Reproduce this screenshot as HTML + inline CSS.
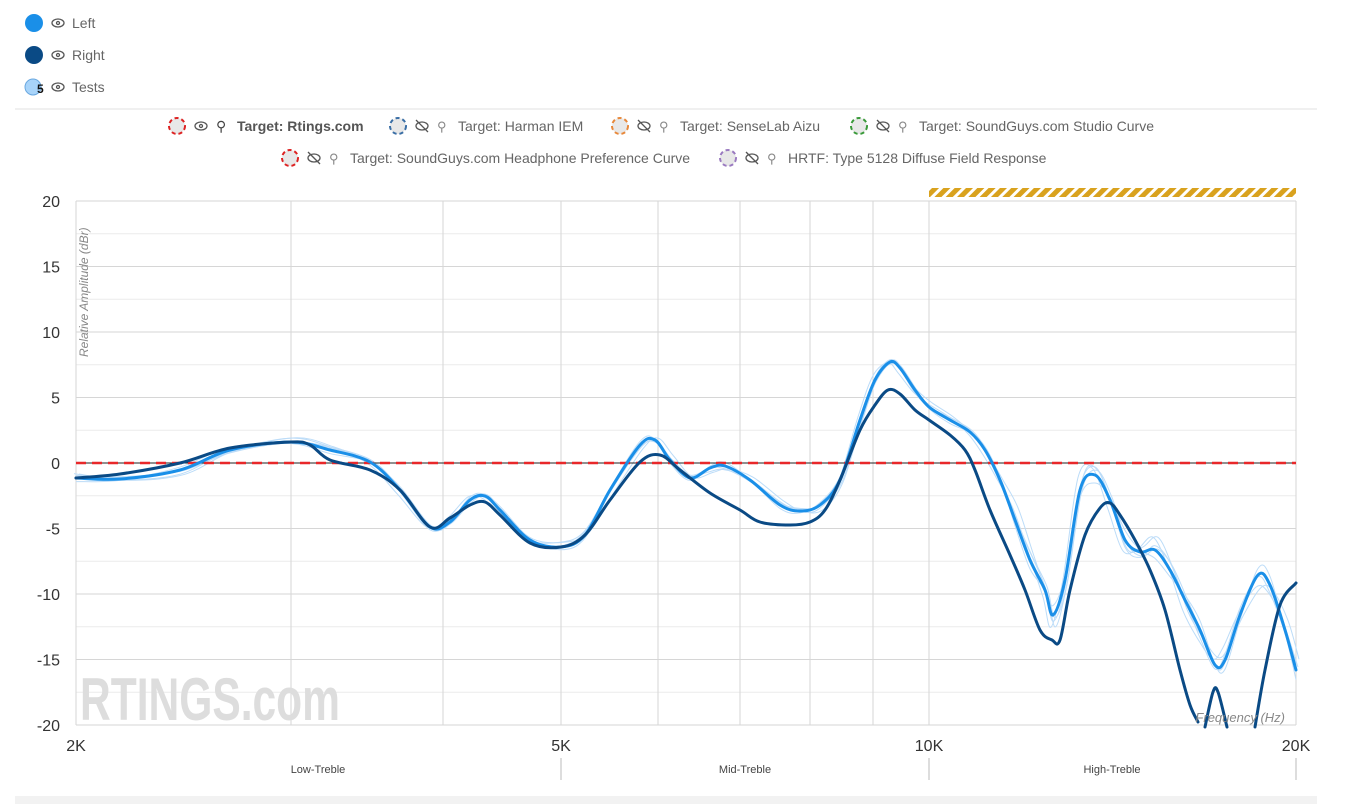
<!DOCTYPE html><html><head><meta charset="utf-8"><style>
body{margin:0;width:1345px;height:804px;background:#fff;font-family:"Liberation Sans",sans-serif;overflow:hidden;position:relative}
</style></head><body>
<svg width="1345" height="804" style="position:absolute;left:0;top:0" font-family="Liberation Sans, sans-serif">
<g font-size="14" fill="#666">
<circle cx="34" cy="23" r="9" fill="#1a8fe8"/><text x="72" y="28">Left</text>
<circle cx="34" cy="55" r="9" fill="#0a4a85"/><text x="72" y="60">Right</text>
<circle cx="33" cy="87" r="8" fill="#a8d4fa" stroke="#6aa8e0"/><text x="37" y="93" font-size="12" font-weight="bold" fill="#111">5</text><text x="72" y="92">Tests</text>
<g fill="none" stroke="#555" stroke-width="1.3">
<ellipse cx="58" cy="23" rx="6" ry="4"/><circle cx="58" cy="23" r="1.5"/>
<ellipse cx="58" cy="55" rx="6" ry="4"/><circle cx="58" cy="55" r="1.5"/>
<ellipse cx="58" cy="87" rx="6" ry="4"/><circle cx="58" cy="87" r="1.5"/>
</g>
<line x1="15" y1="109" x2="1317" y2="109" stroke="#e2e2e2"/>
<g stroke-dasharray="4,3" stroke-width="2" fill="#e8e8e8">
<circle cx="177" cy="126" r="8" stroke="#d22"/><circle cx="398" cy="126" r="8" stroke="#3a6ea5"/><circle cx="620" cy="126" r="8" stroke="#e8883a"/><circle cx="859" cy="126" r="8" stroke="#3a9a3a"/>
<circle cx="290" cy="158" r="8" stroke="#d22"/><circle cx="728" cy="158" r="8" stroke="#9a7ac0"/>
</g>
<g fill="none" stroke="#555" stroke-width="1.3">
<ellipse cx="201" cy="126" rx="6" ry="4"/><circle cx="201" cy="126" r="1.5"/>
<ellipse cx="422" cy="126" rx="6" ry="4"/><line x1="416" y1="120" x2="428" y2="132"/>
<ellipse cx="644" cy="126" rx="6" ry="4"/><line x1="638" y1="120" x2="650" y2="132"/>
<ellipse cx="883" cy="126" rx="6" ry="4"/><line x1="877" y1="120" x2="889" y2="132"/>
<ellipse cx="314" cy="158" rx="6" ry="4"/><line x1="308" y1="152" x2="320" y2="164"/>
<ellipse cx="752" cy="158" rx="6" ry="4"/><line x1="746" y1="152" x2="758" y2="164"/>
</g>
<g font-size="13" fill="#444">
<text x="216" y="131" font-size="14">⚲</text>
<text x="237" y="131" font-weight="bold" fill="#555" font-size="14">Target: Rtings.com</text>
<text x="437" y="131" fill="#888">⚲</text><text x="458" y="131" font-size="14" fill="#666">Target: Harman IEM</text>
<text x="659" y="131" fill="#888">⚲</text><text x="680" y="131" font-size="14" fill="#666">Target: SenseLab Aizu</text>
<text x="898" y="131" fill="#888">⚲</text><text x="919" y="131" font-size="14" fill="#666">Target: SoundGuys.com Studio Curve</text>
<text x="329" y="163" fill="#888">⚲</text><text x="350" y="163" font-size="14" fill="#666">Target: SoundGuys.com Headphone Preference Curve</text>
<text x="767" y="163" fill="#888">⚲</text><text x="788" y="163" font-size="14" fill="#666">HRTF: Type 5128 Diffuse Field Response</text>
</g>
</g>
<defs><pattern id="hz" width="8" height="8" patternUnits="userSpaceOnUse" patternTransform="rotate(45)"><rect width="8" height="8" fill="#fff"/><rect width="5" height="8" fill="#d9a21e"/></pattern></defs>
<rect x="929" y="188" width="367" height="9" fill="url(#hz)"/>
<g id="grid"></g>
<text x="80" y="720" font-size="60" font-weight="bold" fill="#ddd" textLength="260" lengthAdjust="spacingAndGlyphs">RTINGS.com</text>
<g id="tests" fill="none" stroke="#bcdcf8" stroke-width="1"></g>
<line x1="76" y1="463" x2="1296" y2="463" stroke="#222" stroke-width="1"/>
<line x1="76" y1="463" x2="1296" y2="463" stroke="#e8282a" stroke-width="2.5" stroke-dasharray="10,6"/>
<g id="main" fill="none" stroke-width="3" stroke-linecap="round" stroke-linejoin="round"></g>
<text transform="translate(88,357) rotate(-90)" font-size="12" font-style="italic" fill="#888">Relative Amplitude (dBr)</text>
<text x="1285" y="722" font-size="13" font-style="italic" fill="#888" text-anchor="end">Frequency (Hz)</text>
<g font-size="16" fill="#333" text-anchor="middle">
<text x="76" y="751">2K</text><text x="561" y="751">5K</text><text x="929" y="751">10K</text><text x="1296" y="751">20K</text>
</g>
<g font-size="11" fill="#444" text-anchor="middle"><text x="318" y="773">Low-Treble</text><text x="745" y="773">Mid-Treble</text><text x="1112" y="773">High-Treble</text></g>
<g stroke="#bbb"><line x1="561" y1="758" x2="561" y2="780"/><line x1="929" y1="758" x2="929" y2="780"/><line x1="1296" y1="758" x2="1296" y2="780"/></g>
<rect x="15" y="796" width="1302" height="8" fill="#f2f2f2"/>
</svg>
<script>
var ns="http://www.w3.org/2000/svg";
function el(p,t,a){var e=document.createElementNS(ns,t);for(var k in a)e.setAttribute(k,a[k]);p.appendChild(e);return e}
var g=document.getElementById('grid');
for(var i=0;i<=16;i++){var y=201+i*524/16;el(g,'line',{x1:76,x2:1296,y1:y,y2:y,stroke:i%2?'#ececec':'#d6d6d6'});}
for(var i=0;i<=16;i+=2){var v=20-i*2.5;var tx=el(g,'text',{x:60,y:201+i*524/16+6,'font-size':16,fill:'#333','text-anchor':'end'});tx.textContent=v;}
[76,291,443,561,658,740,810,873,929,1296].forEach(function(x){el(g,'line',{x1:x,x2:x,y1:201,y2:725,stroke:'#d6d6d6'})});
function sm(p){var d='M'+p[0][0]+','+p[0][1];for(var i=0;i<p.length-1;i++){var p0=p[i-1]||p[i],p1=p[i],p2=p[i+1],p3=p[i+2]||p2;
d+='C'+(p1[0]+(p2[0]-p0[0])/6)+','+(p1[1]+(p2[1]-p0[1])/6)+' '+(p2[0]-(p3[0]-p1[0])/6)+','+(p2[1]-(p3[1]-p1[1])/6)+' '+p2[0]+','+p2[1];}return d}
var L=[[76,478],[120,479],[180,470],[230,450],[291,442],[330,450],[370,462],[400,490],[430,527],[450,522],[470,500],[485,496],[500,510],[530,540],[561,547],[585,535],[610,490],[640,445],[655,440],[670,460],[690,478],[710,468],[725,466],[750,480],[780,505],[800,511],[820,505],[840,480],[860,420],[875,380],[890,362],[900,368],[915,390],[929,407],[950,420],[970,432],[985,450],[1000,480],[1015,520],[1030,560],[1045,590],[1053,615],[1065,580],[1080,490],[1095,475],[1110,500],[1125,540],[1140,552],[1155,550],[1170,570],[1185,600],[1200,630],[1215,665],[1225,660],[1240,615],[1258,575],[1270,585],[1285,630],[1296,670]];
var R=[[76,478],[120,474],[180,463],[230,448],[291,442],[310,445],[330,460],[370,470],[400,490],[430,527],[450,518],[470,505],[485,502],[500,515],[530,543],[561,547],[585,535],[610,500],[640,462],[660,455],[680,470],[710,493],[740,510],[760,522],[790,525],[810,522],[825,510],[840,480],[860,430],[875,405],[888,390],[900,394],[915,410],[929,420],[950,435],[965,450],[975,470],[990,510],[1010,555],[1025,590],[1040,630],[1052,640],[1060,640],[1070,590],[1085,535],[1100,508],[1110,503],[1120,515],[1135,540],[1150,570],[1165,610],[1180,670],[1190,705],[1198,722]];
var t=document.getElementById('tests');
[[0,6,0.3],[0,-5,0.2],[3,8,-0.2],[-2,-8,0.4],[2,3,-0.5]].forEach(function(o){el(t,'path',{d:sm(L.map(function(p,i){return [p[0]+o[0],p[1]+Math.sin(i*1.3+o[2]*5)*o[1]*(p[0]>1000?1.6:0.6)]}))})});
var m=document.getElementById('main');
el(m,'path',{d:sm(L),stroke:'#1a8fe8'});
el(m,'path',{d:sm(R),stroke:'#0a4a85'});
el(m,'path',{d:sm([[1205,727],[1213,692],[1218,692],[1227,727]]),stroke:'#0a4a85'});
el(m,'path',{d:sm([[1255,727],[1265,670],[1280,605],[1296,583]]),stroke:'#0a4a85'});
</script>
</body></html>
